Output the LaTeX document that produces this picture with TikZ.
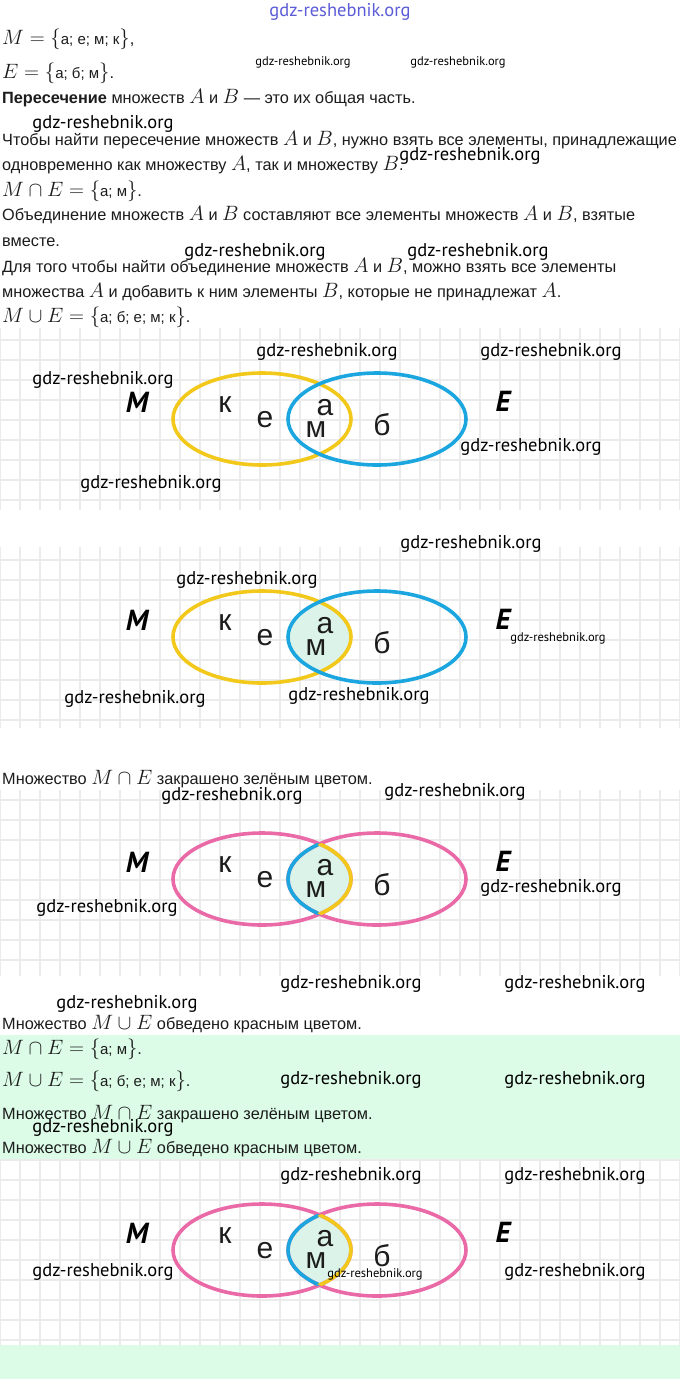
\documentclass[tikz,border=0pt]{standalone}
\usepackage{fontspec}
\setmainfont{Liberation Sans}
\newfontfamily\markfont{PT Sans}
\definecolor{setyellow}{HTML}{F2C81B}
\definecolor{setblue}{HTML}{1BA6E0}
\definecolor{setpink}{HTML}{EA6AA8}
\definecolor{lensgreen}{HTML}{DBF3E8}
\definecolor{notegreen}{HTML}{DCFCE7}
\definecolor{gridgray}{HTML}{EBEBEB}
\definecolor{markblue}{HTML}{5C5CD8}
\definecolor{textmain}{HTML}{1C1C1C}
\newcommand{\mth}[1]{{\fontsize{19.5}{20}\selectfont$#1$}}
\newcommand{\el}[1]{\mbox{\fontsize{15}{16}\selectfont #1}}
% one pair of rings, centre height #1
\newcommand{\ringpair}[3]{%
  \draw[ring, #2] (262,#1) ellipse [x radius=89pt, y radius=46pt];
  \draw[ring, #3] (377,#1) ellipse [x radius=89pt, y radius=46pt];}
\newcommand{\lensfill}[1]{%
  \begin{scope}
    \clip (262,#1) ellipse [x radius=89pt, y radius=46pt];
    \fill[lensgreen] (377,#1) ellipse [x radius=89pt, y radius=46pt];
  \end{scope}}
\newcommand{\lensrim}[1]{%
  \begin{scope}
    \clip (262,#1) ellipse [x radius=89pt, y radius=46pt];
    \draw[ring, setblue] (377,#1) ellipse [x radius=89pt, y radius=46pt];
  \end{scope}
  \begin{scope}
    \clip (377,#1) ellipse [x radius=89pt, y radius=46pt];
    \draw[ring, setyellow] (262,#1) ellipse [x radius=89pt, y radius=46pt];
  \end{scope}}
\newcommand{\vennletters}[2]{%
  \node[setname] (#1M) at (137,#2-17) {M};
  \node[setname] (#1E) at (503,#2-18) {E};
  \node[elem] (#1k) at (225,#2-14) {к};
  \node[elem] (#1e) at (265,#2+1) {е};
  \node[elem] (#1a) at (325,#2-11) {а};
  \node[elem] (#1m) at (316,#2+11) {м};
  \node[elem] (#1b) at (382,#2+6) {б};}
\tikzset{
  txt/.style={anchor=base west, inner sep=0pt, text=textmain, font=\fontsize{16.3}{18}\selectfont},
  wm/.style={inner sep=0pt, font=\markfont\fontsize{18.5}{18}\selectfont},
  wmsmall/.style={inner sep=0pt, font=\markfont\fontsize{12.5}{12}\selectfont},
  gridline/.style={draw=gridgray, line width=1.2pt},
  ring/.style={line width=3.6pt},
  elem/.style={inner sep=0pt, text=textmain, font=\fontsize{30}{30}\selectfont},
  setname/.style={inner sep=0pt, font=\markfont\bfseries\itshape\fontsize{29}{29}\selectfont},
}

\begin{document}
\begin{tikzpicture}[x=1pt, y=-1pt]
  \useasboundingbox (0,0) rectangle (680,1379);
  \fill[white] (0,0) rectangle (680,1379);
  % backgrounds
  \fill[notegreen] (0,1035) rectangle (680,1160);
  \fill[notegreen] (0,1345) rectangle (680,1379);
  \draw[gridline, step=20pt] (0,328) grid (680,510);
  \draw[gridline, step=20pt] (0,547) grid (680,728);
  \draw[gridline, step=20pt] (0,790) grid (680,976);
  \draw[gridline, step=20pt] (0,1160) grid (680,1345);

  % text above the pictures
  \node[txt] (lineM) at (2,44) {\mth{M=\{\el{а; е; м; к}\}},};
  \node[txt] (lineE) at (2,78) {\mth{E=\{\el{а; б; м}\}}.};
  \node[txt] (cutdef) at (2,103) {\textbf{Пересечение} множеств \mth{A} и \mth{B} — это их общая часть.};
  \node[txt] (cutrule1) at (2,145) {Чтобы найти пересечение множеств \mth{A} и \mth{B}, нужно взять все элементы, принадлежащие};
  \node[txt] (cutrule2) at (2,170) {одновременно как множеству \mth{A}, так и множеству \mth{B}.};
  \node[txt] (cutset) at (2,196) {\mth{M\cap E=\{\el{а; м}\}}.};
  \node[txt] (joindef1) at (2,220) {Объединение множеств \mth{A} и \mth{B} составляют все элементы множеств \mth{A} и \mth{B}, взятые};
  \node[txt] (joindef2) at (2,246) {вместе.};
  \node[txt] (joinrule1) at (2,272) {Для того чтобы найти объединение множеств \mth{A} и \mth{B}, можно взять все элементы};
  \node[txt] (joinrule2) at (2,297) {множества \mth{A} и добавить к ним элементы \mth{B}, которые не принадлежат \mth{A}.};
  \node[txt] (joinset) at (2,322) {\mth{M\cup E=\{\el{а; б; е; м; к}\}}.};

  % picture 1: the two sets
  \ringpair{419}{setyellow}{setblue}
  \vennletters{one}{419}

  % picture 2: the common part
  \lensfill{637}
  \ringpair{637}{setyellow}{setblue}
  \vennletters{two}{637}

  \node[txt] (cutnote) at (2,784) {Множество \mth{M\cap E} закрашено зелёным цветом.};

  % picture 3: union outlined
  \lensfill{879}
  \ringpair{879}{setpink}{setpink}
  \lensrim{879}
  \vennletters{three}{879}

  \node[txt] (joinnote) at (2,1029) {Множество \mth{M\cup E} обведено красным цветом.};

  % answer block
  \node[txt] (ansCut) at (2,1054) {\mth{M\cap E=\{\el{а; м}\}}.};
  \node[txt] (ansJoin) at (2,1086) {\mth{M\cup E=\{\el{а; б; е; м; к}\}}.};
  \node[txt] (ansCutNote) at (2,1119) {Множество \mth{M\cap E} закрашено зелёным цветом.};
  \node[txt] (ansJoinNote) at (2,1153) {Множество \mth{M\cup E} обведено красным цветом.};

  % picture 4
  \lensfill{1250}
  \ringpair{1250}{setpink}{setpink}
  \lensrim{1250}
  \vennletters{four}{1250}

  % site marks
  \node[wm, text=markblue] (wmtop) at (340,12) {gdz-reshebnik.org};
  \foreach \x/\y [count=\i] in {103/124, 470/156, 255/252, 478/252,
      327/352, 551/352, 103/380, 531/447, 151/484,
      471/544, 247/580, 135/699, 359/696,
      232/796, 455/792, 107/908, 551/888, 351/984, 575/984, 127/1004,
      351/1080, 575/1080, 103/1128,
      351/1176, 575/1176, 103/1272, 575/1272}
    \node[wm] (wm\i) at (\x,\y) {gdz-reshebnik.org};
  \foreach \x/\y [count=\i] in {303/62, 458/62, 558/638, 375/1274}
    \node[wmsmall] (wms\i) at (\x,\y) {gdz-reshebnik.org};
\end{tikzpicture}
\end{document}
